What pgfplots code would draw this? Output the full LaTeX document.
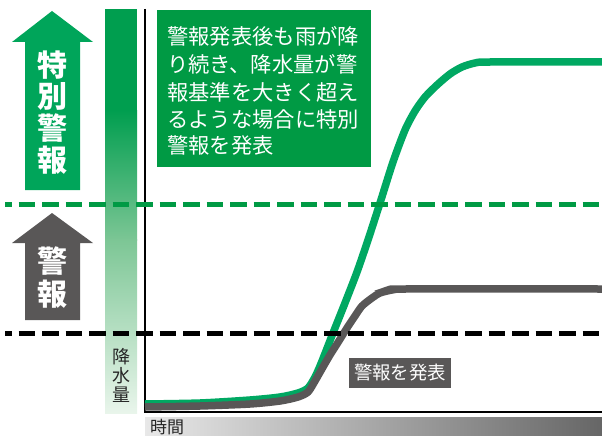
\documentclass[border=0pt]{standalone}
\usepackage{fontspec}
\setmainfont{Noto Sans CJK JP}
\usepackage{pgfplots}
\pgfplotsset{compat=1.18}
\definecolor{arrowgreen}{HTML}{00A55A}
\definecolor{boxgreen}{HTML}{009A44}
\definecolor{curvegreen}{HTML}{00A862}
\definecolor{dashgreen}{HTML}{009A44}
\definecolor{dgray}{HTML}{595757}
\definecolor{bartop}{HTML}{009E4F}
\definecolor{barmid}{HTML}{7CC695}
\definecolor{barbot}{HTML}{E9F5EB}
\begin{document}
\begin{tikzpicture}
\begin{axis}[width=602pt, height=436pt, scale only axis,
  xmin=0, xmax=602, ymin=0, ymax=436, y dir=reverse,
  hide axis, clip=false]
% gradient bar
\fill[bartop] (105,9) rectangle (137,111);
\shade[top color=bartop, bottom color=barmid] (105,110) rectangle (137,240);
\shade[top color=barmid, bottom color=barbot] (105,239) rectangle (137,413);
% green arrow
\fill[arrowgreen] (25,190) -- (25,42) -- (12,42) -- (52,11) -- (93,42) -- (80,42) -- (80,190) -- cycle;
% gray arrow
\fill[dgray] (25,320) -- (25,243) -- (12,243) -- (52,213) -- (93,243) -- (80,243) -- (80,320) -- cycle;
\begin{scope}[every node/.style={text=white, inner sep=0pt, font=\bfseries\fontsize{30}{30}\selectfont}]
\node at (52,65) {特};
\node at (52,96) {別};
\node at (52,128) {警};
\node at (52,160) {報};
\node at (52,261) {警};
\node at (52,294) {報};
\end{scope}
\begin{scope}[every node/.style={text=black!85, inner sep=0pt, font=\fontsize{18}{18}\selectfont}]
\node at (121,357) {降};
\node at (121,376) {水};
\node at (121,395) {量};
\end{scope}
% text box
\fill[boxgreen] (157,10) rectangle (371,167);
\begin{scope}[every node/.style={text=white, inner sep=0pt, anchor=west, font=\fontsize{21.3}{21.3}\selectfont}]
\node at (167,36) {警報発表後も雨が降};
\node at (167,64) {り続き、降水量が警};
\node at (167,92) {報基準を大きく超え};
\node at (167,119) {るような場合に特別};
\node at (167,145) {警報を発表};
\end{scope}
% axis lines
\draw[line width=2pt] (145,9) -- (145,411.5) -- (602,411.5);
% curves
\addplot[curvegreen, line width=7.5pt, smooth, tension=0.45] coordinates {
(145,404) (200,403) (250,400) (280,397) (298,393) (308,388) (315,377)
(320,366) (326,351) (333,333) (345,303) (357,272) (368,240) (380,203)
(393,162) (405,130) (415,111) (425,97) (437,85) (450,74) (462,67)
(475,63) (490,62) (602,62)};
\addplot[dgray, line width=7.5pt, smooth, tension=0.45] coordinates {
(145,407) (200,406) (250,404) (280,401) (298,397) (308,392) (315,381)
(323,367) (330,355) (337,344) (347,328) (355,316) (362,306) (372,298)
(380,293) (392,290) (405,289) (602,289)};
% dashed lines
\draw[dashgreen, line width=5pt, dash pattern=on 16.5pt off 7pt, dash phase=10pt] (5,204) -- (602,204);
\draw[black, line width=5pt, dash pattern=on 16.5pt off 7pt, dash phase=10pt] (5,333) -- (602,333);
% label
\fill[dgray] (349,358) rectangle (451,388);
\node[text=white, inner sep=0pt, font=\fontsize{18.4}{18.4}\selectfont] at (400,373) {警報を発表};
% time bar
\shade[left color=black!9, right color=black!60] (145,417) rectangle (602,437);
\node[text=black!85, inner sep=0pt, anchor=west, font=\fontsize{17}{17}\selectfont] at (150,427) {時間};
\end{axis}
\pgfresetboundingbox
\path (0,0) rectangle (602pt,436pt);
\end{tikzpicture}
\end{document}
